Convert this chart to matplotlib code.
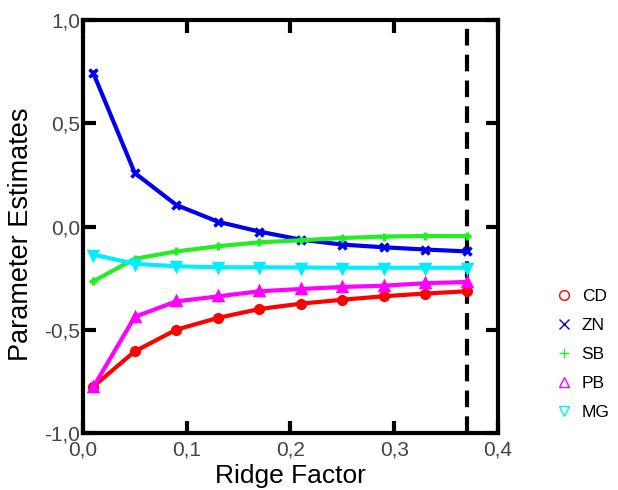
import matplotlib
matplotlib.use('Agg')
import matplotlib.pyplot as plt
from matplotlib.lines import Line2D
from matplotlib.ticker import FuncFormatter

plt.rcParams['font.family'] = ['Liberation Sans', 'DejaVu Sans']

# ridge factor values and parameter estimates
ridge = [0.01, 0.05, 0.09, 0.13, 0.17, 0.21, 0.25, 0.29, 0.33, 0.37]
cd = [-0.775, -0.604, -0.499, -0.442, -0.399, -0.373, -0.354, -0.337, -0.324, -0.313]
zn = [0.745, 0.26, 0.105, 0.024, -0.024, -0.063, -0.087, -0.100, -0.111, -0.120]
sb = [-0.265, -0.156, -0.120, -0.095, -0.076, -0.066, -0.055, -0.048, -0.045, -0.046]
pb = [-0.778, -0.437, -0.362, -0.338, -0.313, -0.302, -0.292, -0.286, -0.274, -0.268]
mg = [-0.135, -0.180, -0.192, -0.197, -0.197, -0.198, -0.199, -0.199, -0.199, -0.199]

names = ['CD', 'ZN', 'SB', 'PB', 'MG']
colors = ['#ff0000', '#0000ee', '#22ee22', '#ff00ff', '#00eeff']
markers = ['o', 'x', '+', '^', 'v']
chosen_k = 0.37

fig = plt.figure(figsize=(6.18, 4.9), dpi=100)
ax = fig.add_axes([0.134, 0.116, 0.672, 0.843])

for vals, c, m in zip([cd, zn, sb, pb, mg], colors, markers):
    ax.plot(ridge, vals, color=c, lw=3, marker=m, markersize=5.5,
            markeredgewidth=2.5, zorder=3)

ax.axvline(chosen_k, color='black', lw=3, linestyle=(0, (4, 2.2)), zorder=2)

ax.set_xlim(0, 0.4)
ax.set_ylim(-1.0, 1.0)
ax.set_xticks([0.0, 0.1, 0.2, 0.3, 0.4])
ax.set_yticks([-1.0, -0.5, 0.0, 0.5, 1.0])
comma = FuncFormatter(lambda v, p: f'{v:.1f}'.replace('.', ','))
ax.xaxis.set_major_formatter(comma)
ax.yaxis.set_major_formatter(comma)
ax.tick_params(direction='in', length=9, width=3, labelsize=15, pad=2,
               top=True, right=True, colors='black', labelcolor='#444444')
ax.tick_params(axis='x', pad=5)
for side, sp in ax.spines.items():
    sp.set_linewidth(3)
ax.spines['left'].set_linestyle((0, (8, 1)))

ax.set_xlabel('Ridge Factor', fontsize=19)
ax.set_ylabel('Parameter Estimates', fontsize=19.5)
ax.xaxis.set_label_coords(0.5, -0.074)
ax.yaxis.set_label_coords(-0.118, 0.482)

handles = [Line2D([], [], linestyle='none', marker=m, color=c,
                  markerfacecolor='none', markersize=7, markeredgewidth=1)
           for c, m in zip(colors, markers)]
fig.legend(handles, names, loc='upper left', bbox_to_anchor=(0.885, 0.425),
           frameon=False, fontsize=12.5, handletextpad=0.4, labelspacing=0.8,
           handlelength=1.2, borderaxespad=0)

fig.savefig('out.png', dpi=100)
